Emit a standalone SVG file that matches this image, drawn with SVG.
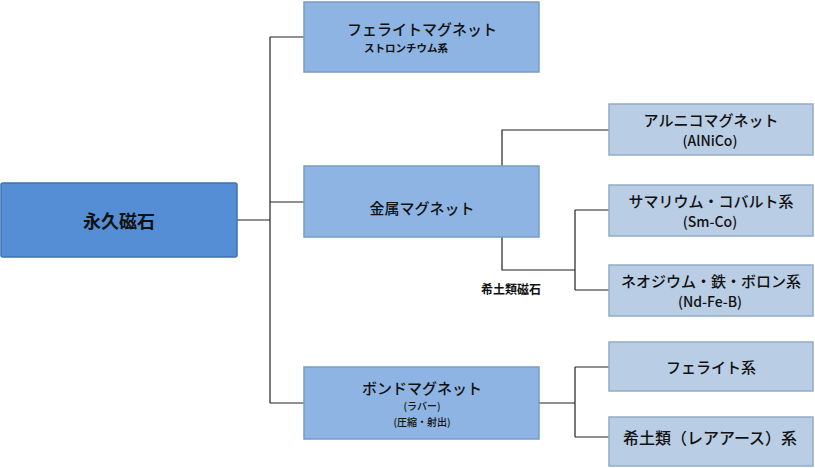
<svg xmlns="http://www.w3.org/2000/svg" width="815" height="468" viewBox="0 0 815 468">
<style>
text{font-family:"Noto Sans CJK JP","Liberation Sans",sans-serif;fill:#111;text-anchor:middle;font-weight:500}
.root{fill:#558ED5;stroke:#3E72AE;stroke-width:1.5}
.l2{fill:#8EB4E3;stroke:#779CC8;stroke-width:1.5}
.l3{fill:#B9CDE5;stroke:#93ABC7;stroke-width:1.5}
.t{font-size:15px}
.s{font-size:10px}
.p{font-size:14px}
.c{fill:none;stroke:#222;stroke-width:1.2}
</style>
<rect width="815" height="468" fill="#fff"/>
<g id="connectors">
<path class="c" d="M237 220H270M270 37V403M270 37H304M270 202H304M270 403H304"/>
<path class="c" d="M502 166V130H609M502 237V270H575M575 210V290M575 210H609M575 290H609"/>
<path class="c" d="M539 403H575M575 367V437M575 367H609M575 437H609"/>
</g>
<g id="n-root">
<rect class="root" x="1" y="183" width="236" height="74" rx="2"/>
<text x="119" y="228" style="font-size:18px;font-weight:bold">永久磁石</text>
</g>
<g id="n-ferrite">
<rect class="l2" x="304" y="2" width="235" height="70"/>
<text class="t" x="422" y="35">フェライトマグネット</text>
<text x="406" y="52" style="font-size:10.5px;font-weight:bold">ストロンチウム系</text>
</g>
<g id="n-metal">
<rect class="l2" x="304" y="166" width="235" height="71"/>
<text class="t" x="422" y="214">金属マグネット</text>
</g>
<g id="n-bond">
<rect class="l2" x="304" y="367" width="235" height="72"/>
<text class="t" x="422" y="394">ボンドマグネット</text>
<text class="s" x="422" y="410">(ラバー)</text>
<text class="s" x="422" y="426">(圧縮・射出)</text>
</g>
<g id="n-alnico">
<rect class="l3" x="609" y="104" width="204" height="51"/>
<text class="t" x="711" y="126">アルニコマグネット</text>
<text class="p" x="710" y="146">(AlNiCo)</text>
</g>
<g id="n-smco">
<rect class="l3" x="609" y="185" width="204" height="51"/>
<text class="t" x="711" y="207">サマリウム・コバルト系</text>
<text class="p" x="710" y="227">(Sm-Co)</text>
</g>
<g id="n-ndfeb">
<rect class="l3" x="609" y="265" width="204" height="51"/>
<text class="t" x="711" y="287">ネオジウム・鉄・ボロン系</text>
<text class="p" x="710" y="307">(Nd-Fe-B)</text>
</g>
<g id="n-ferrite-b">
<rect class="l3" x="609" y="342" width="204" height="49"/>
<text class="t" x="711" y="373">フェライト系</text>
</g>
<g id="n-rare">
<rect class="l3" x="609" y="417" width="204" height="49"/>
<text x="710" y="444" style="font-size:16px">希土類（レアアース）系</text>
</g>
<text x="511" y="294" style="font-size:12px;font-weight:bold">希土類磁石</text>
</svg>
